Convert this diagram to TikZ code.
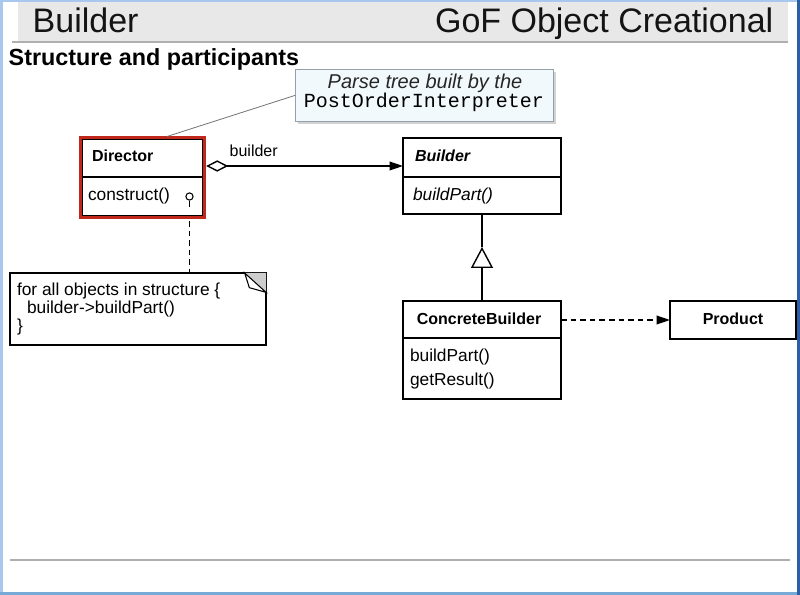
\documentclass[tikz,border=0pt]{standalone}
\usepackage{fontspec}
\setmainfont{Liberation Sans}
\setmonofont{Liberation Mono}
\usetikzlibrary{arrows.meta,calc,shadows}
\definecolor{framel}{RGB}{168,200,240}
\definecolor{framer}{RGB}{45,95,165}
\definecolor{frameb}{RGB}{120,170,215}
\definecolor{titlebg}{RGB}{232,232,232}
\definecolor{rulegray}{RGB}{175,175,175}
\definecolor{dirred}{RGB}{192,40,28}
\definecolor{notebg}{RGB}{242,249,253}
\definecolor{notebd}{RGB}{150,160,170}
\definecolor{foldgray}{RGB}{205,205,205}
\definecolor{titletext}{RGB}{20,20,20}
\begin{document}
\begin{tikzpicture}[x=0.75pt,y=-0.75pt,line width=1.05pt,
  box/.style={draw,anchor=north west,inner sep=0,outer sep=0,line width=1.1pt},
  txt/.style={inner sep=0,outer sep=0,font=\fontsize{13pt}{15pt}\selectfont},
  btxt/.style={inner sep=0,outer sep=0,font=\fontsize{12pt}{14pt}\selectfont\bfseries},
  deparrow/.style={dashed,dash pattern=on 4.2pt off 3pt,-{Triangle[length=10pt,width=6.5pt]}},
  aggarrow/.style={{Diamond[open,fill=white,length=16.5pt,width=8.5pt]}-{Triangle[length=10pt,width=6.5pt]}},
  genarrow/.style={-{Triangle[open,fill=white,length=15.75pt,width=16.5pt]}},
  notelink/.style={dashed,dash pattern=on 4.2pt off 3pt}
]
\useasboundingbox (0,0) rectangle (800,595);
% frame and slide chrome
\fill[white] (0,0) rectangle (800,595);
\fill[framel] (0,0) rectangle (3,595);
\fill[framel] (0,0) rectangle (800,2);
\fill[frameb] (0,592) rectangle (800,595);
\fill[framer] (797,0) rectangle (800,595);
\fill[titlebg] (18,2) rectangle (788,41);
\fill[rulegray] (12,41) rectangle (788,43);
\fill[rulegray] (10,559) rectangle (790,561);
\node[inner sep=0,anchor=base west,text=titletext,font=\fontsize{25.5pt}{28pt}\selectfont] (t1) at (32,33) {Builder};
\node[inner sep=0,anchor=base east,text=titletext,font=\fontsize{25.5pt}{28pt}\selectfont] (t2) at (774,33) {GoF Object Creational};
\node[inner sep=0,anchor=base west,font=\fontsize{17.5pt}{20pt}\selectfont\bfseries] (t3) at (8,66) {Structure and participants};

% Director
\node[box,minimum width=90.75pt,minimum height=57.75pt] (dir) at (82,139) {};
\draw[dirred,line width=2.6pt] (80.3,137.3) rectangle (204.7,217.7);
\draw[line width=1.1pt] (dir.west |- 0,177) -- (dir.east |- 0,177);
\node[btxt,anchor=base west] (dirname) at (92,162) {Director};
\node[txt,anchor=base west] (dirop) at (88,201) {construct()};
\node[circle,draw,line width=0.8pt,minimum size=5.4pt,inner sep=0] (lol) at (189.5,196.5) {};
\draw[line width=0.8pt] (lol.south) -- ++(0,6);

% Builder
\node[box,minimum width=118.5pt,minimum height=57pt] (bld) at (403,138) {};
\draw[line width=1.1pt] (bld.west |- 0,177) -- (bld.east |- 0,177);
\node[btxt,anchor=base west,font=\fontsize{12pt}{14pt}\selectfont\bfseries\itshape] (bldname) at (415,162) {Builder};
\node[txt,anchor=base west,font=\fontsize{13pt}{15pt}\selectfont\itshape] (bldop) at (413,201) {buildPart()};

% ConcreteBuilder
\node[box,minimum width=118.5pt,minimum height=73.5pt] (cb) at (403,301) {};
\draw[line width=1.1pt] (cb.west |- 0,338) -- (cb.east |- 0,338);
\node[btxt,anchor=base] (cbname) at (479,325) {ConcreteBuilder};
\node[txt,anchor=base west] (cbop1) at (410,362) {buildPart()};
\node[txt,anchor=base west] (cbop2) at (410,386) {getResult()};

% Product
\node[box,minimum width=94.5pt,minimum height=28.5pt] (prod) at (670,301) {};
\node[btxt,anchor=base] (prodname) at (733,325) {Product};

% note 1
\node[draw=notebd,fill=notebg,anchor=north west,minimum width=193.5pt,minimum height=39pt,inner sep=0,line width=0.6pt,
  drop shadow={shadow xshift=1.8pt,shadow yshift=-1.8pt,opacity=0.35}] (note1) at (295,69) {};
\node[inner sep=0,anchor=base,font=\fontsize{15pt}{17pt}\selectfont\itshape,text=black!85] (n1a) at (425,89) {Parse tree built by the};
\node[inner sep=0,anchor=base,font=\fontsize{15pt}{17pt}\selectfont\ttfamily] (n1b) at (424,108) {PostOrderInterpreter};
\coordinate (dtop) at (167,136.5);
\draw[black!55,line width=0.6pt] (note1.west) -- (dtop);

% note 2
\node[anchor=north west,minimum width=192pt,minimum height=54pt,inner sep=0,outer sep=0] (note2) at (10,273) {};
\draw[line width=1.1pt] (note2.north west) rectangle (note2.south east);
\fill[foldgray] ([xshift=-16pt]note2.north east) -- (note2.north east) -- ([yshift=-14.5pt]note2.north east) -- cycle;
\draw[fill=white,line width=0.8pt] ([xshift=-16pt]note2.north east) .. controls ([xshift=-14pt,yshift=-6pt]note2.north east) .. ([xshift=-12.5pt,yshift=-11pt]note2.north east) -- ([yshift=-14.5pt]note2.north east) -- cycle;
\node[txt,anchor=base west] (n2a) at (17,296) {for all objects in structure \{};
\node[txt,anchor=base west] (n2b) at (27,314) {builder->buildPart()};
\node[txt,anchor=base west] (n2c) at (17,332) {\}};
\coordinate (dd) at (189.5,221);
\draw[notelink] (dd) -- (dd |- note2.north);

% connectors
\coordinate (dirR) at ([xshift=2.4pt]dir.east);
\draw[aggarrow] (dirR |- 0,166) -- (bld.west |- 0,166);
\node[inner sep=0,anchor=base west,font=\fontsize{12pt}{14pt}\selectfont] (agglbl) at (229,157) {builder};
\draw[genarrow] (cb.north) -- ++(0,-54) coordinate (gapex);
\draw (gapex) -- (bld.south);
\draw[deparrow] (cb.east |- prod.west) -- (prod.west);
\end{tikzpicture}
\end{document}
